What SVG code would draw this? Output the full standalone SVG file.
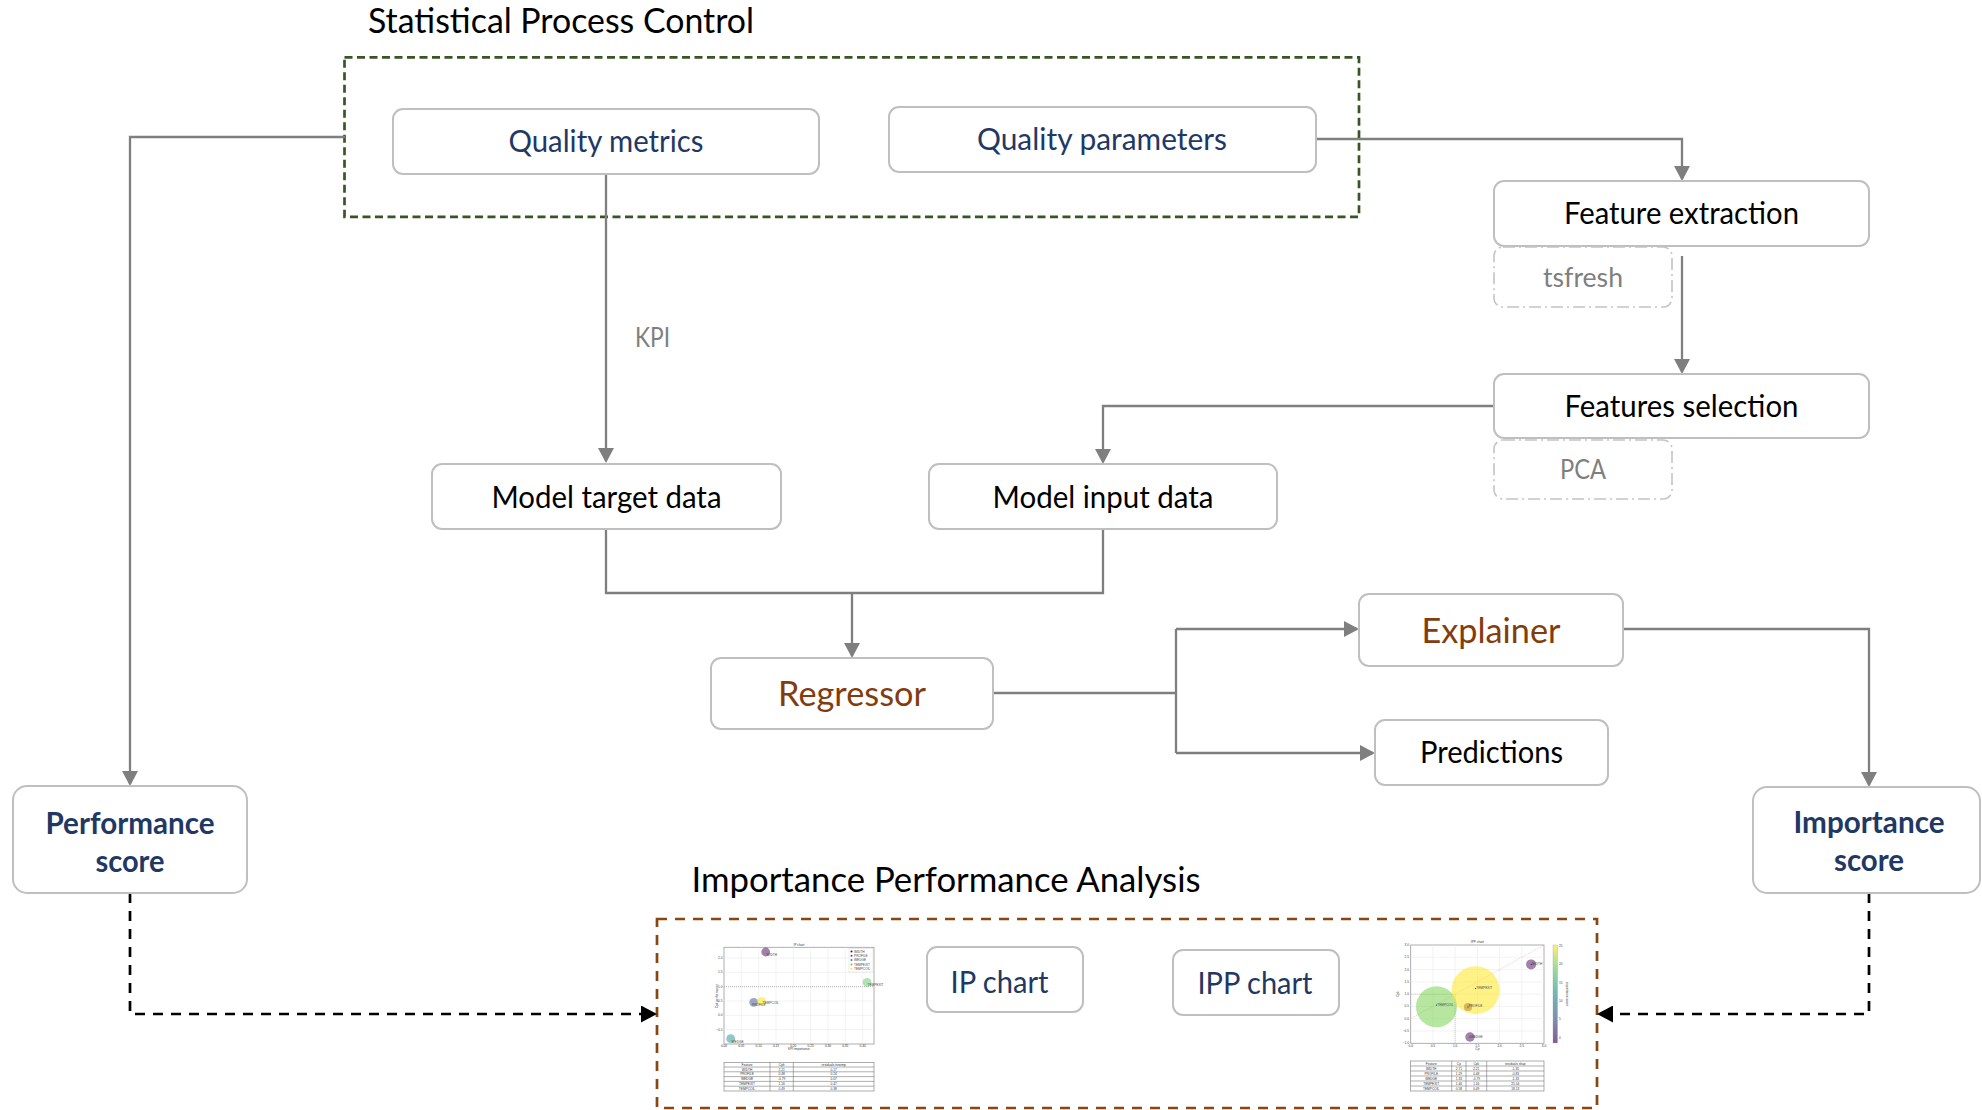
<svg xmlns="http://www.w3.org/2000/svg" width="1982" height="1110" viewBox="0 0 1982 1110">
  <defs>
    <style>
      .box { fill: #ffffff; stroke: #bfbfbf; stroke-width: 2; }
      .sub { fill: #ffffff; stroke: #c4c4c4; stroke-width: 1.6; stroke-dasharray: 12 4 2 4; }
      .conn { fill: none; stroke: #7f7f7f; stroke-width: 2.3; }
      .dashk { fill: none; stroke: #000000; stroke-width: 2.7; stroke-dasharray: 10 8; }
      .t { font-family: Lato, "Liberation Sans", sans-serif; text-anchor: middle; }
      .lbl { font-size: 30.5px; fill: #000000; }
      .navy { font-size: 30.5px; fill: #1f3864; }
      .brown { font-size: 35px; fill: #843c0c; }
      .bold { font-size: 30.5px; font-weight: 700; fill: #1f3864; }
      .grey { font-size: 27px; fill: #7f7f7f; }
      .title { font-size: 35px; fill: #000000; }
      .tiny { font-family: "Liberation Sans", sans-serif; font-size: 3.2px; fill: #444444; }
      .tinyc { font-family: "Liberation Sans", sans-serif; font-size: 3.2px; fill: #333333; text-anchor: middle; }
      .grid { stroke: #e6e6e6; stroke-width: 0.5; }
      .frame { fill: #ffffff; stroke: #9a9a9a; stroke-width: 0.8; }
      .tab { fill: none; stroke: #777777; stroke-width: 0.6; }
    </style>
    <marker id="arr" markerUnits="userSpaceOnUse" markerWidth="16" markerHeight="16" refX="13" refY="8" orient="auto">
      <path d="M0,0 L15,8 L0,16 z" fill="#7f7f7f"/>
    </marker>
    <marker id="arrk" markerUnits="userSpaceOnUse" markerWidth="17" markerHeight="17" refX="14" refY="8.5" orient="auto">
      <path d="M0,0 L16,8.5 L0,17 z" fill="#000000"/>
    </marker>
    <linearGradient id="viridis" x1="0" y1="1" x2="0" y2="0">
      <stop offset="0" stop-color="#440154"/>
      <stop offset="0.25" stop-color="#3b528b"/>
      <stop offset="0.5" stop-color="#21918c"/>
      <stop offset="0.75" stop-color="#5ec962"/>
      <stop offset="1" stop-color="#fde725"/>
    </linearGradient>
  </defs>

  <rect width="1982" height="1110" fill="#ffffff"/>

  <!-- group frames -->
  <g id="spc-group">
    <rect x="344.5" y="57.3" width="1014.5" height="159.5" fill="none" stroke="#375623" stroke-width="2.7" stroke-dasharray="8 4.5"/>
    <text class="t title" x="561" y="33" textLength="386" lengthAdjust="spacingAndGlyphs">Statistical Process Control</text>
  </g>
  <g id="ipa-group">
    <rect x="657" y="919" width="940" height="189" fill="none" stroke="#8b4513" stroke-width="2.7" stroke-dasharray="10 8"/>
    <text class="t title" x="946" y="892" textLength="509" lengthAdjust="spacingAndGlyphs">Importance Performance Analysis</text>
  </g>

  <!-- connectors -->
  <g id="connectors">
    <path class="conn" d="M345 137 H130 V784" marker-end="url(#arr)"/>
    <path class="conn" d="M606 174 V461" marker-end="url(#arr)"/>
    <path class="conn" d="M1316 139 H1682 V179" marker-end="url(#arr)"/>
    <path class="conn" d="M1682 256 V372" marker-end="url(#arr)"/>
    <path class="conn" d="M1494 406 H1103 V462" marker-end="url(#arr)"/>
    <path class="conn" d="M606 529 V593 H1103 V529"/>
    <path class="conn" d="M852 593 V656" marker-end="url(#arr)"/>
    <path class="conn" d="M993 693 H1176"/>
    <path class="conn" d="M1176 629 V753"/>
    <path class="conn" d="M1176 629 H1357" marker-end="url(#arr)"/>
    <path class="conn" d="M1176 753 H1373" marker-end="url(#arr)"/>
    <path class="conn" d="M1623 629 H1869 V785" marker-end="url(#arr)"/>
    <path class="dashk" d="M130 893 V1014 H655" marker-end="url(#arrk)"/>
    <path class="dashk" d="M1869 893 V1014 H1599" marker-end="url(#arrk)"/>
    <text class="t grey" x="652.5" y="347" textLength="35" lengthAdjust="spacingAndGlyphs">KPI</text>
  </g>

  <!-- nodes -->
  <g id="quality-metrics">
    <rect class="box" x="393" y="109" width="426" height="65" rx="10"/>
    <text class="t navy" x="606" y="151.5" textLength="195" lengthAdjust="spacingAndGlyphs">Quality metrics</text>
  </g>
  <g id="quality-parameters">
    <rect class="box" x="889" y="107" width="427" height="65" rx="10"/>
    <text class="t navy" x="1102" y="149.5" textLength="250" lengthAdjust="spacingAndGlyphs">Quality parameters</text>
  </g>
  <g id="feature-extraction">
    <rect class="box" x="1494" y="181" width="375" height="65" rx="10"/>
    <text class="t lbl" x="1681.5" y="224" textLength="235" lengthAdjust="spacingAndGlyphs">Feature extraction</text>
  </g>
  <g id="tsfresh">
    <rect class="sub" x="1494" y="247" width="178" height="60" rx="9"/>
    <text class="t grey" x="1583" y="286.5" textLength="80" lengthAdjust="spacingAndGlyphs">tsfresh</text>
  </g>
  <g id="features-selection">
    <rect class="box" x="1494" y="374" width="375" height="64" rx="10"/>
    <text class="t lbl" x="1681.5" y="417" textLength="234" lengthAdjust="spacingAndGlyphs">Features selection</text>
  </g>
  <g id="pca">
    <rect class="sub" x="1494" y="440" width="178" height="59" rx="9"/>
    <text class="t grey" x="1583" y="479" textLength="46" lengthAdjust="spacingAndGlyphs">PCA</text>
  </g>
  <g id="model-target-data">
    <rect class="box" x="432" y="464" width="349" height="65" rx="10"/>
    <text class="t lbl" x="606.5" y="507.5" textLength="230" lengthAdjust="spacingAndGlyphs">Model target data</text>
  </g>
  <g id="model-input-data">
    <rect class="box" x="929" y="464" width="348" height="65" rx="10"/>
    <text class="t lbl" x="1103" y="507.5" textLength="221" lengthAdjust="spacingAndGlyphs">Model input data</text>
  </g>
  <g id="regressor">
    <rect class="box" x="711" y="658" width="282" height="71" rx="10"/>
    <text class="t brown" x="852" y="706" textLength="148" lengthAdjust="spacingAndGlyphs">Regressor</text>
  </g>
  <g id="explainer">
    <rect class="box" x="1359" y="594" width="264" height="72" rx="10"/>
    <text class="t brown" x="1491" y="642.5" textLength="139" lengthAdjust="spacingAndGlyphs">Explainer</text>
  </g>
  <g id="predictions">
    <rect class="box" x="1375" y="720" width="233" height="65" rx="10"/>
    <text class="t lbl" x="1491.5" y="763" textLength="143" lengthAdjust="spacingAndGlyphs">Predictions</text>
  </g>
  <g id="performance-score">
    <rect class="box" x="13" y="786" width="234" height="107" rx="14"/>
    <text class="t bold" x="130" y="833.5" textLength="169" lengthAdjust="spacingAndGlyphs">Performance</text>
    <text class="t bold" x="130" y="871.5" textLength="69" lengthAdjust="spacingAndGlyphs">score</text>
  </g>
  <g id="importance-score">
    <rect class="box" x="1753" y="787" width="227" height="106" rx="14"/>
    <text class="t bold" x="1869" y="832.5" textLength="151" lengthAdjust="spacingAndGlyphs">Importance</text>
    <text class="t bold" x="1869" y="870.5" textLength="70" lengthAdjust="spacingAndGlyphs">score</text>
  </g>
  <g id="ip-chart-label">
    <rect class="box" x="927" y="947" width="156" height="65" rx="10"/>
    <text class="t navy" x="999.5" y="992.5" textLength="98" lengthAdjust="spacingAndGlyphs">IP chart</text>
  </g>
  <g id="ipp-chart-label">
    <rect class="box" x="1173" y="950" width="166" height="65" rx="10"/>
    <text class="t navy" x="1255" y="993.5" textLength="115" lengthAdjust="spacingAndGlyphs">IPP chart</text>
  </g>

  <!-- IP chart thumbnail: bubble plot of importance vs Cpk with its table -->
  <g id="ip-chart">
    <rect class="frame" x="724" y="947.3" width="150" height="96.7"/>
    <g class="grid">
      <line x1="741.3" y1="947.3" x2="741.3" y2="1044"/>
      <line x1="758.7" y1="947.3" x2="758.7" y2="1044"/>
      <line x1="776" y1="947.3" x2="776" y2="1044"/>
      <line x1="793.3" y1="947.3" x2="793.3" y2="1044"/>
      <line x1="810.7" y1="947.3" x2="810.7" y2="1044"/>
      <line x1="828" y1="947.3" x2="828" y2="1044"/>
      <line x1="845.3" y1="947.3" x2="845.3" y2="1044"/>
      <line x1="862.7" y1="947.3" x2="862.7" y2="1044"/>
      <line x1="724" y1="958" x2="874" y2="958"/>
      <line x1="724" y1="972.4" x2="874" y2="972.4"/>
      <line x1="724" y1="1001" x2="874" y2="1001"/>
      <line x1="724" y1="1015.4" x2="874" y2="1015.4"/>
      <line x1="724" y1="1029.7" x2="874" y2="1029.7"/>
    </g>
    <line x1="724" y1="986.7" x2="874" y2="986.7" stroke="#b0b0b0" stroke-width="1" stroke-dasharray="1 1"/>
    <circle cx="765.7" cy="952" r="4.4" fill="#440154" fill-opacity="0.5"/>
    <circle cx="753.7" cy="1002.3" r="4.4" fill="#3b528b" fill-opacity="0.5"/>
    <circle cx="761.7" cy="1001.3" r="4.4" fill="#fde725" fill-opacity="0.6"/>
    <circle cx="730.7" cy="1038.7" r="4.4" fill="#21918c" fill-opacity="0.5"/>
    <circle cx="867" cy="982.3" r="4.4" fill="#5ec962" fill-opacity="0.5"/>
    <text class="tiny" x="766.5" y="956">WIDTH</text>
    <text class="tiny" x="752" y="1005.5">PROFILE</text>
    <text class="tiny" x="762.5" y="1004">TEMPCOIL</text>
    <text class="tiny" x="731.5" y="1042.5">WEDGE</text>
    <text class="tiny" x="867.5" y="985.5">TEMPEXIT</text>
    <text class="tinyc" x="799" y="945.5">IP chart</text>
    <text class="tinyc" x="799" y="1050">KPI importance</text>
    <text class="tinyc" transform="translate(718 996) rotate(-90)">Cpk performance</text>
    <g class="tiny" text-anchor="end">
      <text x="722.5" y="959">2.0</text>
      <text x="722.5" y="973.4">1.5</text>
      <text x="722.5" y="987.7">1.0</text>
      <text x="722.5" y="1002">0.5</text>
      <text x="722.5" y="1016.4">0.0</text>
      <text x="722.5" y="1030.7">−0.5</text>
    </g>
    <g class="tinyc">
      <text x="724" y="1046.5">0.00</text>
      <text x="741.3" y="1046.5">0.05</text>
      <text x="758.7" y="1046.5">0.10</text>
      <text x="776" y="1046.5">0.15</text>
      <text x="793.3" y="1046.5">0.20</text>
      <text x="810.7" y="1046.5">0.25</text>
      <text x="828" y="1046.5">0.30</text>
      <text x="845.3" y="1046.5">0.35</text>
      <text x="862.7" y="1046.5">0.40</text>
    </g>
    <rect x="849" y="948.5" width="24" height="23.5" fill="#ffffff" stroke="#d0d0d0" stroke-width="0.4"/>
    <circle cx="851.5" cy="951.5" r="1" fill="#440154"/>
    <circle cx="851.5" cy="955.8" r="1" fill="#3b528b"/>
    <circle cx="851.5" cy="960.1" r="1" fill="#21918c"/>
    <circle cx="851.5" cy="964.4" r="1" fill="#5ec962"/>
    <circle cx="851.5" cy="968.7" r="1" fill="#fde725"/>
    <g class="tiny">
      <text x="854" y="952.6">WIDTH</text>
      <text x="854" y="956.9">PROFILE</text>
      <text x="854" y="961.2">WEDGE</text>
      <text x="854" y="965.5">TEMPEXIT</text>
      <text x="854" y="969.8">TEMPCOIL</text>
    </g>
    <!-- table -->
    <rect class="tab" x="724" y="1062.3" width="150" height="28.7"/>
    <g class="tab">
      <line x1="724" y1="1067" x2="874" y2="1067"/>
      <line x1="724" y1="1071.8" x2="874" y2="1071.8"/>
      <line x1="724" y1="1076.6" x2="874" y2="1076.6"/>
      <line x1="724" y1="1081.4" x2="874" y2="1081.4"/>
      <line x1="724" y1="1086.2" x2="874" y2="1086.2"/>
      <line x1="770" y1="1062.3" x2="770" y2="1091"/>
      <line x1="793.3" y1="1062.3" x2="793.3" y2="1091"/>
    </g>
    <g class="tinyc">
      <text x="747" y="1065.8">Feature</text>
      <text x="781.7" y="1065.8">Cpk</text>
      <text x="833.7" y="1065.8">residuals treeimp</text>
      <text x="747" y="1070.6">WIDTH</text><text x="781.7" y="1070.6">2.21</text><text x="833.7" y="1070.6">0.17</text>
      <text x="747" y="1075.4">PROFILE</text><text x="781.7" y="1075.4">0.48</text><text x="833.7" y="1075.4">0.24</text>
      <text x="747" y="1080.2">WEDGE</text><text x="781.7" y="1080.2">-0.79</text><text x="833.7" y="1080.2">0.07</text>
      <text x="747" y="1085">TEMPEXIT</text><text x="781.7" y="1085">1.16</text><text x="833.7" y="1085">0.47</text>
      <text x="747" y="1089.8">TEMPCOIL</text><text x="781.7" y="1089.8">0.49</text><text x="833.7" y="1089.8">0.38</text>
    </g>
  </g>

  <!-- IPP chart thumbnail: Cp vs Cpk bubbles sized by importance, with its table -->
  <g id="ipp-chart">
    <rect class="frame" x="1410.7" y="945" width="133.3" height="98.3"/>
    <g class="grid">
      <line x1="1432.9" y1="945" x2="1432.9" y2="1043.3"/>
      <line x1="1455.1" y1="945" x2="1455.1" y2="1043.3"/>
      <line x1="1477.4" y1="945" x2="1477.4" y2="1043.3"/>
      <line x1="1499.6" y1="945" x2="1499.6" y2="1043.3"/>
      <line x1="1521.8" y1="945" x2="1521.8" y2="1043.3"/>
      <line x1="1410.7" y1="957.3" x2="1544" y2="957.3"/>
      <line x1="1410.7" y1="969.6" x2="1544" y2="969.6"/>
      <line x1="1410.7" y1="981.9" x2="1544" y2="981.9"/>
      <line x1="1410.7" y1="994.2" x2="1544" y2="994.2"/>
      <line x1="1410.7" y1="1006.4" x2="1544" y2="1006.4"/>
      <line x1="1410.7" y1="1018.7" x2="1544" y2="1018.7"/>
      <line x1="1410.7" y1="1031" x2="1544" y2="1031"/>
    </g>
    <line x1="1410.7" y1="1018.7" x2="1544" y2="945" stroke="#f2a0a8" stroke-width="0.6" stroke-dasharray="1 1"/>
    <path d="M1410.7 994.2 H1455.1 V1043.3" fill="none" stroke="#b0b0b0" stroke-width="0.7" stroke-dasharray="1 1"/>
    <circle cx="1436.5" cy="1006.7" r="20.5" fill="#7ad151" fill-opacity="0.55"/>
    <circle cx="1475.6" cy="990.2" r="24" fill="#fde725" fill-opacity="0.55"/>
    <circle cx="1468" cy="1006.9" r="4" fill="#440154" fill-opacity="0.35"/>
    <circle cx="1468" cy="1006.9" r="4" fill="#fde725" fill-opacity="0.35"/>
    <circle cx="1470" cy="1037" r="4.7" fill="#440154" fill-opacity="0.5"/>
    <circle cx="1531.1" cy="964.4" r="5" fill="#440154" fill-opacity="0.5"/>
    <g fill="#000000">
      <circle cx="1475.6" cy="988.5" r="0.5"/>
      <circle cx="1436.5" cy="1005" r="0.5"/>
      <circle cx="1468" cy="1006.9" r="0.5"/>
      <circle cx="1470" cy="1037" r="0.5"/>
      <circle cx="1531.1" cy="964.4" r="0.5"/>
    </g>
    <g class="tiny" fill="#111111">
      <text x="1476.3" y="989">TEMPEXIT</text>
      <text x="1437.2" y="1005.5">TEMPCOIL</text>
      <text x="1468.7" y="1007.4">PROFILE</text>
      <text x="1470.7" y="1037.5">WEDGE</text>
      <text x="1531.8" y="964.9">WIDTH</text>
    </g>
    <text class="tinyc" x="1477.4" y="943">IPP chart</text>
    <text class="tinyc" x="1477.4" y="1050">Cp</text>
    <text class="tinyc" transform="translate(1399 994) rotate(-90)">Cpk</text>
    <g class="tiny" text-anchor="end">
      <text x="1409" y="946">3.0</text>
      <text x="1409" y="958.3">2.5</text>
      <text x="1409" y="970.6">2.0</text>
      <text x="1409" y="982.9">1.5</text>
      <text x="1409" y="995.2">1.0</text>
      <text x="1409" y="1007.4">0.5</text>
      <text x="1409" y="1019.7">0.0</text>
      <text x="1409" y="1032">−0.5</text>
      <text x="1409" y="1044.3">−1.0</text>
    </g>
    <g class="tinyc">
      <text x="1410.7" y="1046.5">0.0</text>
      <text x="1432.9" y="1046.5">0.5</text>
      <text x="1455.1" y="1046.5">1.0</text>
      <text x="1477.4" y="1046.5">1.5</text>
      <text x="1499.6" y="1046.5">2.0</text>
      <text x="1521.8" y="1046.5">2.5</text>
      <text x="1544" y="1046.5">3.0</text>
    </g>
    <!-- colour bar -->
    <rect x="1553" y="945" width="4.5" height="98" fill="url(#viridis)" fill-opacity="0.65" stroke="#999999" stroke-width="0.3"/>
    <g class="tiny">
      <text x="1559" y="947">25</text>
      <text x="1559" y="965.3">20</text>
      <text x="1559" y="983.6">15</text>
      <text x="1559" y="1001.9">10</text>
      <text x="1559" y="1020.2">5</text>
      <text x="1559" y="1038.5">0</text>
    </g>
    <text class="tinyc" transform="translate(1566 994) rotate(90)">importance score</text>
    <!-- table -->
    <rect class="tab" x="1410.7" y="1061" width="133.3" height="30"/>
    <g class="tab">
      <line x1="1410.7" y1="1066" x2="1544" y2="1066"/>
      <line x1="1410.7" y1="1071" x2="1544" y2="1071"/>
      <line x1="1410.7" y1="1076" x2="1544" y2="1076"/>
      <line x1="1410.7" y1="1081" x2="1544" y2="1081"/>
      <line x1="1410.7" y1="1086" x2="1544" y2="1086"/>
      <line x1="1451.7" y1="1061" x2="1451.7" y2="1091"/>
      <line x1="1466" y1="1061" x2="1466" y2="1091"/>
      <line x1="1486.7" y1="1061" x2="1486.7" y2="1091"/>
    </g>
    <g class="tinyc">
      <text x="1431.2" y="1064.6">Feature</text><text x="1458.9" y="1064.6">Cp</text><text x="1476.3" y="1064.6">Cpk</text><text x="1515.3" y="1064.6">residuals shap</text>
      <text x="1431.2" y="1069.6">WIDTH</text><text x="1458.9" y="1069.6">2.71</text><text x="1476.3" y="1069.6">2.21</text><text x="1515.3" y="1069.6">-1.35</text>
      <text x="1431.2" y="1074.6">PROFILE</text><text x="1458.9" y="1074.6">1.29</text><text x="1476.3" y="1074.6">0.48</text><text x="1515.3" y="1074.6">-0.83</text>
      <text x="1431.2" y="1079.6">WEDGE</text><text x="1458.9" y="1079.6">1.33</text><text x="1476.3" y="1079.6">-0.79</text><text x="1515.3" y="1079.6">-1.33</text>
      <text x="1431.2" y="1084.6">TEMPEXIT</text><text x="1458.9" y="1084.6">1.46</text><text x="1476.3" y="1084.6">1.16</text><text x="1515.3" y="1084.6">25.54</text>
      <text x="1431.2" y="1089.6">TEMPCOIL</text><text x="1458.9" y="1089.6">0.58</text><text x="1476.3" y="1089.6">0.49</text><text x="1515.3" y="1089.6">18.13</text>
    </g>
  </g>
</svg>
